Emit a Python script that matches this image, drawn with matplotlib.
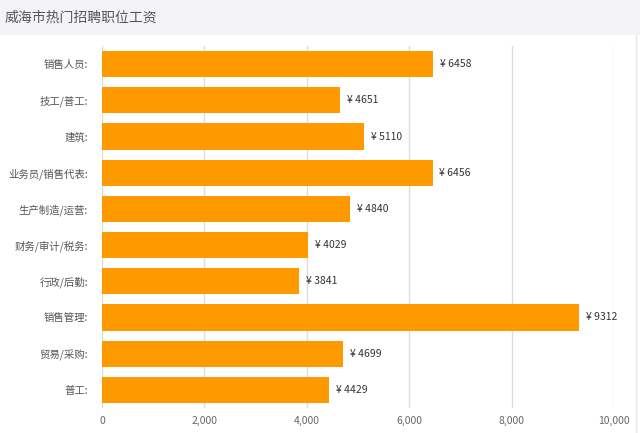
import matplotlib
matplotlib.use("Agg")
import matplotlib.pyplot as plt
from matplotlib.patches import Rectangle

plt.rcParams['font.family'] = ['Noto Sans CJK SC', 'DejaVu Sans']

# data
jobs = ["销售人员", "技工/普工", "建筑", "业务员/销售代表", "生产制造/运营",
        "财务/审计/税务", "行政/后勤", "销售管理", "贸易/采购", "普工"]
salary = [6458, 4651, 5110, 6456, 4840, 4029, 3841, 9312, 4699, 4429]
xticks = [0, 2000, 4000, 6000, 8000, 10000]

fig = plt.figure(figsize=(6.4, 4.33), dpi=100)
fig.patch.set_facecolor("white")

# grey title strip
fig.patches.append(Rectangle((0, 1 - 35 / 433), 1, 35 / 433, transform=fig.transFigure,
                             facecolor="#f4f4f6", edgecolor="none", zorder=0))
fig.text(5 / 640, 1 - 18 / 433, "威海市热门招聘职位工资", fontsize=10, color="#555555",
         va="center", ha="left")

ax = fig.add_axes([102 / 640, 1 - 408 / 433, 512 / 640, 362 / 433])
ax.set_facecolor("white")

pos = list(range(len(jobs)))
ax.barh(pos, salary, height=0.72, color="#ff9900", zorder=2)

for p, v in zip(pos, salary):
    ax.annotate("¥ %d" % v, (v, p), xytext=(5, 0), textcoords="offset points",
                va="center", ha="left", fontsize=7.5, color="#333333")

ax.set_xlim(0, 10000)
ax.set_ylim(9.5, -0.5)
ax.set_yticks(pos)
ax.set_yticklabels([j + ":" for j in jobs], fontsize=7.5, color="#555555")
ax.set_xticks(xticks)
ax.set_xticklabels(["{:,}".format(t) for t in xticks], fontsize=7.5, color="#666666")
ax.tick_params(axis="both", length=0)
ax.tick_params(axis="y", pad=10)
ax.tick_params(axis="x", pad=6)

ax.grid(axis="x", color="#dddddd", linewidth=1, zorder=1)
for s in ax.spines.values():
    s.set_visible(False)

# faint right border of the card
fig.add_artist(plt.Line2D([636 / 640, 636 / 640], [0, 1 - 35 / 433], transform=fig.transFigure,
                          color="#e6e6e6", linewidth=1))

fig.savefig("out.png", dpi=100)
